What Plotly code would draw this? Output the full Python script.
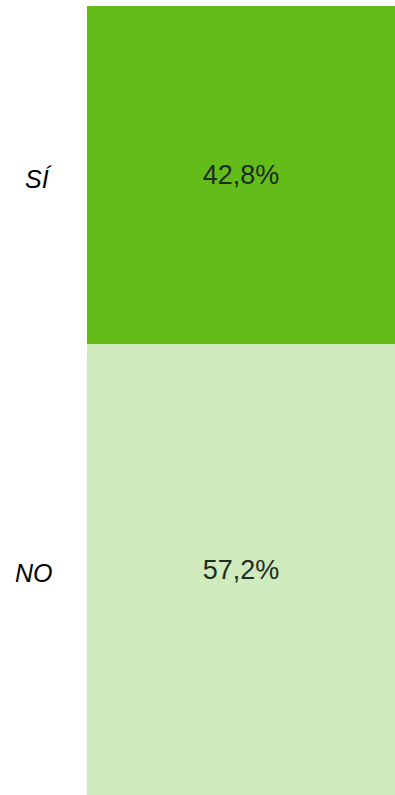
import plotly.graph_objects as go

categories = ["NO", "SÍ"]
values = [57.2, 42.8]
value_labels = ["57,2%", "42,8%"]
colors = ["#CFEBBD", "#63BC1A"]

fig = go.Figure()
base = 0
for cat, val, lab, col in zip(categories, values, value_labels, colors):
    fig.add_trace(go.Bar(
        x=[""], y=[val], name=cat,
        marker=dict(color=col, line=dict(width=0)),
        text=[lab], textposition="inside", insidetextanchor="middle",
        textangle=0, constraintext="none",
        textfont=dict(family="Liberation Sans, Arial, sans-serif", size=27, color="#1E2B1E"),
        hoverinfo="skip",
    ))
    fig.add_annotation(
        xref="paper", yref="y", x=0, y=base + val / 2,
        text="<i>" + cat + "</i>", showarrow=False,
        xanchor="right", yanchor="middle", xshift=-32, yshift=-4,
        font=dict(family="Liberation Sans, Arial, sans-serif", size=25, color="black"),
    )
    base += val

fig.update_layout(
    barmode="stack", bargap=0,
    width=395, height=795,
    margin=dict(l=87, r=0, t=6, b=0, autoexpand=False),
    paper_bgcolor="white", plot_bgcolor="white",
    showlegend=False,
    xaxis=dict(visible=False),
    yaxis=dict(range=[0, 100], visible=False),
)
fig.write_html("out.html", config={"displayModeBar": False},
               post_script="document.body.style.margin='0';")
